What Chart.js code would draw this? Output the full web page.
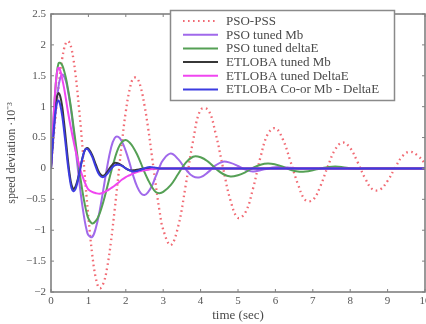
<!DOCTYPE html>
<html>
<head>
<meta charset="utf-8">
<script src="https://cdn.jsdelivr.net/npm/chart.js@4.4.0/dist/chart.umd.min.js"></script>
<style>
html, body { margin: 0; padding: 0; background: #fff; }
#wrap { width: 426px; height: 324px; }
</style>
</head>
<body>
<div id="wrap"><canvas id="speed"></canvas></div>
<script>
// time axis (sec)
const times = [0, 0.05, 0.1, 0.15, 0.2, 0.25, 0.3, 0.35, 0.4, 0.45, 0.5, 0.55, 0.6, 0.65, 0.7, 0.75, 0.8, 0.85, 0.9, 0.95, 1.0,
    1.1, 1.2, 1.3, 1.4, 1.5, 1.6, 1.7, 1.8, 1.9, 2.0, 2.1, 2.2, 2.3, 2.4, 2.5, 2.6, 2.7, 2.8, 2.9, 3.0,
    3.2, 3.4, 3.6, 3.8, 4.0, 4.2, 4.4, 4.6, 4.8, 5.0, 5.2, 5.4, 5.6, 5.8, 6.0, 6.2, 6.4, 6.6, 6.8, 7.0,
    7.2, 7.4, 7.6, 7.8, 8.0, 8.2, 8.4, 8.6, 8.8, 9.0, 9.2, 9.4, 9.6, 9.8, 10.0];

// speed deviation (x10^-3)
const psoPss = [0, 0.36, 0.70, 1.03, 1.32, 1.58, 1.78, 1.94, 2.03, 2.06, 2.03, 1.93, 1.77, 1.55, 1.28, 0.97, 0.64, 0.28, -0.09, -0.45, -0.79,
    -1.38, -1.78, -1.94, -1.86, -1.61, -1.20, -0.68, -0.12, 0.44, 0.92, 1.27, 1.46, 1.46, 1.31, 1.02, 0.64, 0.19, -0.26, -0.68, -0.99,
    -1.24, -0.94, -0.28, 0.45, 0.95, 0.95, 0.57, 0.01, -0.52, -0.80, -0.71, -0.33, 0.18, 0.56, 0.65, 0.47, 0.12, -0.25, -0.51, -0.51,
    -0.29, 0.03, 0.31, 0.42, 0.33, 0.10, -0.16, -0.34, -0.34, -0.20, 0.01, 0.20, 0.27, 0.21, 0.08];

const psoMb = [0, 0.39, 0.76, 1.07, 1.32, 1.47, 1.52, 1.49, 1.41, 1.27, 1.09, 0.88, 0.63, 0.36, 0.09, -0.18, -0.43, -0.65, -0.84, -0.99, -1.08,
    -1.11, -0.96, -0.69, -0.34, 0.02, 0.32, 0.49, 0.51, 0.43, 0.28, 0.09, -0.12, -0.29, -0.40, -0.43, -0.38, -0.28, -0.13, 0.02, 0.14,
    0.24, 0.15, -0.01, -0.13, -0.14, -0.06, 0.05, 0.11, 0.09, 0.04, -0.02, -0.05, -0.03, 0, 0.02, 0.02, 0.01, 0, 0, 0,
    0, 0, 0, 0, 0, 0, 0, 0, 0, 0, 0, 0, 0, 0, 0];

const psoDe = [0, 0.60, 1.13, 1.51, 1.70, 1.71, 1.67, 1.58, 1.46, 1.30, 1.12, 0.92, 0.69, 0.46, 0.23, 0.00, -0.21, -0.40, -0.57, -0.71, -0.81,
    -0.89, -0.85, -0.73, -0.54, -0.31, -0.07, 0.15, 0.33, 0.43, 0.46, 0.42, 0.34, 0.23, 0.09, -0.06, -0.19, -0.30, -0.38, -0.40, -0.38,
    -0.27, -0.09, 0.09, 0.19, 0.18, 0.11, 0.00, -0.09, -0.13, -0.11, -0.06, 0.01, 0.06, 0.08, 0.065, 0.03, -0.02, -0.05, -0.05, -0.03,
    0, 0.02, 0.03, 0.02, 0, -0.01, 0, 0, 0, 0, 0, 0, 0, 0, 0];

const etMb = [0, 0.47, 0.86, 1.13, 1.22, 1.16, 1.00, 0.74, 0.45, 0.15, -0.10, -0.27, -0.33, -0.30, -0.21, -0.09, 0.06, 0.19, 0.29, 0.33, 0.32,
    0.22, 0.06, -0.08, -0.12, -0.06, 0.03, 0.09, 0.08, 0.045, 0, -0.03, -0.03, -0.02, -0.01, 0, 0, 0, 0, 0, 0,
    0, 0, 0, 0, 0, 0, 0, 0, 0, 0, 0, 0, 0, 0, 0, 0, 0, 0, 0, 0,
    0, 0, 0, 0, 0, 0, 0, 0, 0, 0, 0, 0, 0, 0, 0];

const etDe = [0, 0.62, 1.15, 1.51, 1.63, 1.58, 1.45, 1.30, 1.12, 0.93, 0.76, 0.60, 0.45, 0.31, 0.18, 0.06, -0.05, -0.14, -0.22, -0.29, -0.34,
    -0.38, -0.40, -0.41, -0.39, -0.36, -0.32, -0.28, -0.23, -0.18, -0.14, -0.11, -0.08, -0.06, -0.04, -0.03, -0.02, -0.01, 0, 0, 0,
    0, 0, 0, 0, 0, 0, 0, 0, 0, 0, 0, 0, 0, 0, 0, 0, 0, 0, 0, 0,
    0, 0, 0, 0, 0, 0, 0, 0, 0, 0, 0, 0, 0, 0, 0];

const etCo = [0, 0.44, 0.81, 1.04, 1.10, 1.02, 0.85, 0.61, 0.34, 0.06, -0.16, -0.32, -0.37, -0.34, -0.24, -0.10, 0.05, 0.19, 0.29, 0.32, 0.30,
    0.19, 0.02, -0.11, -0.14, -0.09, -0.01, 0.05, 0.06, 0.04, 0, -0.03, -0.05, -0.04, -0.02, 0, 0.02, 0.02, 0.01, 0, 0,
    0, 0, 0, 0, 0, 0, 0, 0, 0, 0, 0, 0, 0, 0, 0, 0, 0, 0, 0, 0,
    0, 0, 0, 0, 0, 0, 0, 0, 0, 0, 0, 0, 0, 0, 0];

const seriesNames = ['PSO-PSS', 'PSO tuned Mb', 'PSO tuned deltaE', 'ETLOBA tuned Mb', 'ETLOBA tuned DeltaE', 'ETLOBA Co-or Mb - DeltaE'];
const seriesValues = [psoPss, psoMb, psoDe, etMb, etDe, etCo];
const seriesColors = ['rgba(238, 80, 90, 0.85)', 'rgb(160, 105, 235)', 'rgb(85, 160, 85)', 'rgb(55, 55, 55)', 'rgb(240, 70, 240)', 'rgb(60, 60, 225)'];

const xTicks = [0, 1, 2, 3, 4, 5, 6, 7, 8, 9, 10];
const yTicks = [-2, -1.5, -1, -0.5, 0, 0.5, 1, 1.5, 2, 2.5];

const serif = 'Liberation Serif';

// frame, inward ticks and the legend box (pgfplots look)
const framePlugin = {
    id: 'frame',
    afterDatasetsDraw(chart) {
        const c = chart.ctx;
        const a = chart.chartArea;
        const xs = chart.scales.x, ys = chart.scales.y;
        c.save();
        c.strokeStyle = '#808080';
        c.lineWidth = 1.6;
        c.strokeRect(a.left, a.top, a.right - a.left, a.bottom - a.top);
        c.lineWidth = 1;
        c.beginPath();
        xTicks.forEach(t => {
            const px = xs.getPixelForValue(t);
            c.moveTo(px, a.bottom); c.lineTo(px, a.bottom - 3);
            c.moveTo(px, a.top); c.lineTo(px, a.top + 3);
        });
        yTicks.forEach(t => {
            const py = ys.getPixelForValue(t);
            c.moveTo(a.left, py); c.lineTo(a.left + 3, py);
            c.moveTo(a.right, py); c.lineTo(a.right - 3, py);
        });
        c.stroke();

        // legend
        c.fillStyle = '#fff';
        c.fillRect(170.5, 10.5, 224, 90);
        c.strokeStyle = '#8a8a8a';
        c.lineWidth = 1.5;
        c.strokeRect(170.5, 10.5, 224, 90);
        c.font = '13px "' + serif + '"';
        c.textBaseline = 'middle';
        c.textAlign = 'left';
        chart.data.datasets.forEach((ds, i) => {
            const y = 21 + i * 13.7;
            c.strokeStyle = ds.borderColor;
            c.lineWidth = 2;
            c.setLineDash(ds.borderDash || []);
            c.beginPath();
            c.moveTo(183, y); c.lineTo(218, y);
            c.stroke();
            c.setLineDash([]);
            c.fillStyle = '#4a4a4a';
            c.fillText(ds.label, 226, y + 0.5);
        });
        c.restore();
    }
};

const datasets = seriesNames.map((name, i) => ({
    label: name,
    data: times.map((t, k) => ({ x: t, y: seriesValues[i][k] })),
    borderColor: seriesColors[i],
    borderWidth: i === 0 ? 2.3 : 2,
    borderDash: i === 0 ? [1.6, 3.4] : [],
    pointRadius: 0,
    tension: 0.4,
    fill: false,
    order: seriesNames.length - i
}));

new Chart(document.getElementById('speed'), {
    type: 'line',
    data: { datasets: datasets },
    options: {
        responsive: true,
        maintainAspectRatio: false,
        animation: false,
        devicePixelRatio: 1,
        layout: { padding: { left: 0, top: 14, right: 1, bottom: 0 } },
        plugins: {
            legend: { display: false },
            tooltip: { enabled: false }
        },
        scales: {
            x: {
                type: 'linear',
                min: 0,
                max: 10,
                afterBuildTicks: s => { s.ticks = xTicks.map(v => ({ value: v })); },
                ticks: { color: '#555', font: { family: serif, size: 11 }, padding: 3 },
                grid: { display: false, drawTicks: false },
                border: { display: false },
                title: {
                    display: true,
                    text: 'time (sec)',
                    color: '#4a4a4a',
                    font: { family: serif, size: 13 },
                    padding: { top: 0, bottom: 1 }
                },
                afterFit: s => { s.height = 32; s.paddingLeft = 0; s.paddingRight = 0; }
            },
            y: {
                type: 'linear',
                min: -2,
                max: 2.5,
                afterBuildTicks: s => { s.ticks = yTicks.map(v => ({ value: v })); },
                ticks: {
                    color: '#555',
                    font: { family: serif, size: 11 },
                    padding: 5,
                    callback: v => String(v).replace('-', '\u2212')
                },
                grid: { display: false, drawTicks: false },
                border: { display: false },
                title: {
                    display: true,
                    text: 'speed deviation \u00b710\u207b\u00b3',
                    color: '#4a4a4a',
                    font: { family: serif, size: 12 },
                    padding: { top: 5, bottom: 0 }
                },
                afterFit: s => { s.width = 51; s.paddingTop = 0; s.paddingBottom = 0; }
            }
        }
    },
    plugins: [framePlugin]
});
</script>
</body>
</html>
